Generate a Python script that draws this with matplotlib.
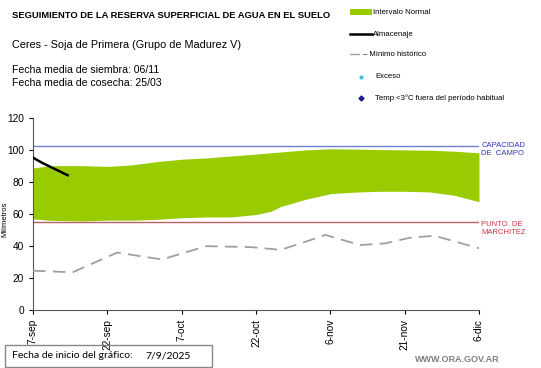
import numpy as np
import matplotlib
matplotlib.use('Agg')
import matplotlib.pyplot as plt
from matplotlib.lines import Line2D
from matplotlib.patches import Rectangle

plt.rcParams['font.family'] = ['Liberation Sans', 'DejaVu Sans']

start = np.datetime64('2025-09-07')

# intervalo normal (days from start)
band_days = [0, 3, 5, 10, 15, 20, 25, 30, 35, 40, 45, 48, 50, 55, 60, 65, 70, 75, 80, 85, 90]
band_upper = [88.5, 89.8, 90, 90, 89.5, 90.5, 92.5, 94, 94.8, 96, 97.2, 98, 98.5, 99.8, 100.5, 100.3, 100, 99.8, 99.6, 99, 98]
band_lower = [56.8, 56, 55.8, 55.5, 56, 56, 56.5, 57.5, 58, 58, 59.5, 61.5, 64.5, 69, 72.5, 73.5, 74, 74, 73.6, 71.5, 67.5]

# almacenaje
alm_days = [0, 1, 2, 3, 4, 5, 6, 7]
alm_vals = [95, 93.2, 91.5, 90, 88.5, 87, 85.5, 84]

# minimo historico
min_days = [0, 8, 17, 26, 35, 44, 50, 54, 59, 66, 71, 76, 81, 90]
min_vals = [24.5, 23.5, 35.8, 31.5, 39.8, 39.2, 37.5, 41.5, 46.8, 40.5, 41.5, 45, 46.3, 38.5]

capacidad = 102
marchitez = 55

tick_days = [0, 15, 30, 45, 60, 75, 90]
tick_labels = ['7-sep', '22-sep', '7-oct', '22-oct', '6-nov', '21-nov', '6-dic']


def to_dates(days):
    return start + np.array(days).astype('timedelta64[D]')


fig = plt.figure(figsize=(5.41, 3.68), dpi=100)
ax = fig.add_axes([33 / 541, 1 - 310 / 368, (479 - 33) / 541, (310 - 117.5) / 368])

ax.fill_between(to_dates(band_days), band_lower, band_upper, color='#99cc00', lw=0, zorder=2)
ax.axhline(capacidad, color='#7080d0', lw=1, zorder=1)
ax.axhline(marchitez, color='#c06060', lw=1, zorder=1)
ax.plot(to_dates(min_days), min_vals, color='#a0a0a0', lw=1.3, dashes=(7, 4), zorder=3)
ax.plot(to_dates(alm_days), alm_vals, color='black', lw=1.8, zorder=4)

ax.set_xlim(to_dates([0])[0], to_dates([90])[0])
ax.set_ylim(0, 120)
ax.set_yticks(np.arange(0, 121, 20))
ax.set_xticks(to_dates(tick_days))
ax.set_xticklabels(tick_labels, rotation=90)
ax.tick_params(axis='both', labelsize=7.3, direction='out', length=3, width=0.8)
for s in ['top', 'right']:
    ax.spines[s].set_visible(False)
ax.spines['left'].set_color('#555555')
ax.spines['bottom'].set_color('#555555')
ax.set_ylabel('Milímetros', fontsize=5.5)
ax.yaxis.set_label_coords(-0.056, 0.47)

ax.text(1.005, capacidad - 1.8, 'CAPACIDAD\nDE  CAMPO', transform=ax.get_yaxis_transform(),
        color='#3333bb', fontsize=5.5, va='center', ha='left', linespacing=1.2)
ax.text(1.005, marchitez + 0.5, 'PUNTO  DE\nMARCHITEZ', transform=ax.get_yaxis_transform(),
        color='#cc3344', fontsize=5.5, va='top', ha='left', linespacing=1.2)

# header text
fig.text(12 / 541, 1 - 15 / 368, 'SEGUIMIENTO DE LA RESERVA SUPERFICIAL DE AGUA EN EL SUELO',
         fontsize=6.75, fontweight='bold', va='center')
fig.text(12 / 541, 1 - 45 / 368, 'Ceres - Soja de Primera (Grupo de Madurez V)', fontsize=7.8, va='center')
fig.text(12 / 541, 1 - 70 / 368, 'Fecha media de siembra: 06/11', fontsize=7.6, va='center')
fig.text(12 / 541, 1 - 83 / 368, 'Fecha media de cosecha: 25/03', fontsize=7.6, va='center')

# legend drawn by hand
lx0, lx1, tx = 350 / 541, 372 / 541, 373 / 541
fig.patches.append(Rectangle((lx0, 1 - 15 / 368), lx1 - lx0, 6 / 368, transform=fig.transFigure,
                             color='#99cc00', lw=0))
fig.text(tx, 1 - 12 / 368, 'Intervalo Normal', fontsize=5.6, va='center')
fig.lines.append(Line2D([lx0, lx1], [1 - 34 / 368] * 2, transform=fig.transFigure, color='black', lw=1.8))
fig.text(tx, 1 - 34 / 368, 'Almacenaje', fontsize=5.6, va='center')
fig.lines.append(Line2D([lx0, 359 / 541], [1 - 54 / 368] * 2, transform=fig.transFigure, color='#a0a0a0', lw=1))
fig.text(363 / 541, 1 - 54 / 368, '– Mínimo histórico', fontsize=5.6, va='center')
fig.lines.append(Line2D([361 / 541], [1 - 77 / 368], transform=fig.transFigure, marker='o', ms=2,
                        color='#40c0d0', lw=0))
fig.text(375 / 541, 1 - 77 / 368, 'Exceso', fontsize=5.6, va='center')
fig.lines.append(Line2D([361 / 541], [1 - 98 / 368], transform=fig.transFigure, marker='D', ms=2.5,
                        color='#1a1a8c', lw=0))
fig.text(375 / 541, 1 - 98 / 368, 'Temp <3°C fuera del período habitual', fontsize=5.6, va='center')

# footer
fig.patches.append(Rectangle((5 / 541, 1 - 367 / 368), 207 / 541, 22 / 368, transform=fig.transFigure,
                             fill=False, ec='#888888', lw=1))
fig.text(12 / 541, 1 - 356 / 368, 'Fecha de inicio del gráfico:', fontsize=7.5, va='center',
         family=['Lato', 'DejaVu Sans'])
fig.text(145 / 541, 1 - 356 / 368, '7/9/2025', fontsize=7.5, va='center', family=['Lato', 'DejaVu Sans'])
fig.text(500 / 541, 1 - 360 / 368, 'WWW.ORA.GOV.AR', fontsize=6.5, fontweight='bold', color='#808080',
         ha='right', va='center')

fig.savefig('out.png', dpi=100)
